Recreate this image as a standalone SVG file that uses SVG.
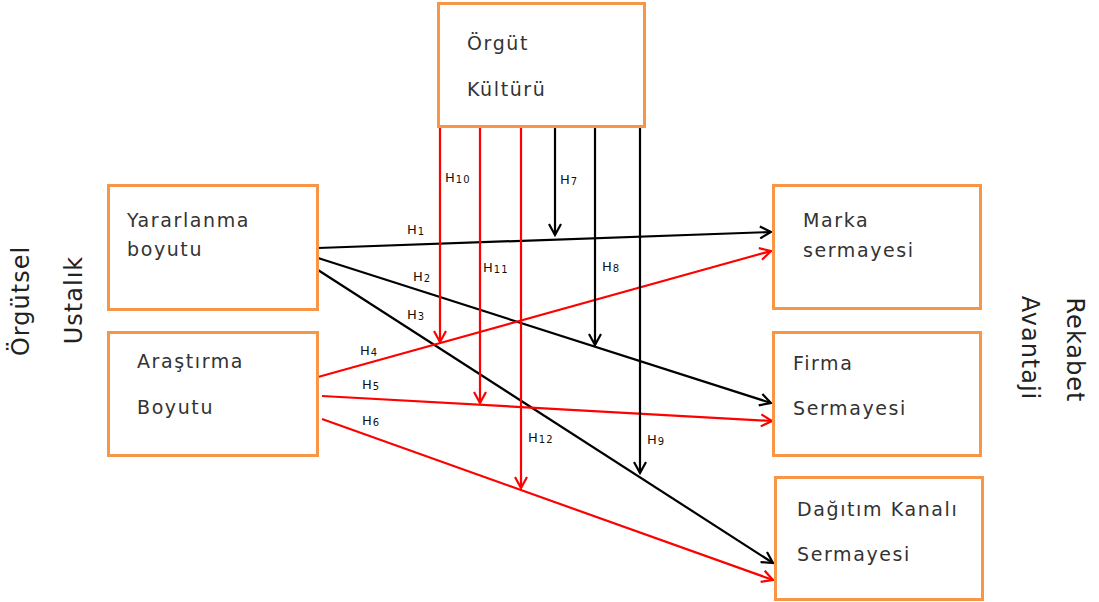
<svg xmlns="http://www.w3.org/2000/svg" width="1099" height="602" viewBox="0 0 1099 602">
<style>
.box{fill:#fff;stroke:#F79646;stroke-width:3}
.t{font-family:"DejaVu Sans",Verdana,sans-serif;font-size:19px;letter-spacing:1.6px;fill:#333}
.big{font-family:"DejaVu Sans",Verdana,sans-serif;font-size:24px;letter-spacing:1px;fill:#222;text-anchor:middle}
.h{font-family:"DejaVu Sans",Verdana,sans-serif;font-size:13px;letter-spacing:1px;fill:#111}
.h tspan{font-size:10px}
.k{stroke:#000;stroke-width:2.2;fill:none}
.r{stroke:#FF0000;stroke-width:2.2;fill:none}
</style>
<defs>
<marker id="ak" markerUnits="userSpaceOnUse" markerWidth="14" markerHeight="14" refX="12" refY="6.5" orient="auto" viewBox="0 0 14 13">
<path d="M1,0.5 L12,6.5 L1,12.5" fill="none" stroke="#000" stroke-width="2.2"/>
</marker>
<marker id="ar" markerUnits="userSpaceOnUse" markerWidth="14" markerHeight="14" refX="12" refY="6.5" orient="auto" viewBox="0 0 14 13">
<path d="M1,0.5 L12,6.5 L1,12.5" fill="none" stroke="#FF0000" stroke-width="2.2"/>
</marker>
</defs>
<g id="labels">
<text class="big" transform="translate(29,301) rotate(-90)">Örgütsel</text>
<text class="big" transform="translate(82,300) rotate(-90)">Ustalık</text>
<text class="big" transform="translate(1067,350) rotate(90)">Rekabet</text>
<text class="big" transform="translate(1022,348) rotate(90)">Avantaji</text>
</g>
<g id="connectors">
<line class="k" x1="318" y1="248" x2="771" y2="232" marker-end="url(#ak)"/>
<line class="k" x1="318" y1="258" x2="771" y2="403" marker-end="url(#ak)"/>
<line class="k" x1="318" y1="270" x2="773" y2="563" marker-end="url(#ak)"/>
<line class="r" x1="318" y1="377" x2="771" y2="251" marker-end="url(#ar)"/>
<line class="r" x1="322" y1="396" x2="772" y2="421" marker-end="url(#ar)"/>
<line class="r" x1="322" y1="419" x2="773" y2="580" marker-end="url(#ar)"/>
<line class="r" x1="440" y1="127" x2="440" y2="342" marker-end="url(#ar)"/>
<line class="r" x1="480" y1="127" x2="480" y2="403" marker-end="url(#ar)"/>
<line class="r" x1="521" y1="127" x2="521" y2="488" marker-end="url(#ar)"/>
<line class="k" x1="555" y1="127" x2="555" y2="235" marker-end="url(#ak)"/>
<line class="k" x1="595" y1="127" x2="595" y2="345" marker-end="url(#ak)"/>
<line class="k" x1="640" y1="127" x2="640" y2="473" marker-end="url(#ak)"/>
<text class="h" x="407" y="234">H<tspan dy="1">1</tspan></text>
<text class="h" x="413" y="281">H<tspan dy="1">2</tspan></text>
<text class="h" x="407" y="319">H<tspan dy="1">3</tspan></text>
<text class="h" x="360" y="355">H<tspan dy="1">4</tspan></text>
<text class="h" x="362" y="389">H<tspan dy="1">5</tspan></text>
<text class="h" x="362" y="425">H<tspan dy="1">6</tspan></text>
<text class="h" x="560" y="184">H<tspan dy="1">7</tspan></text>
<text class="h" x="602" y="271">H<tspan dy="1">8</tspan></text>
<text class="h" x="647" y="444">H<tspan dy="1">9</tspan></text>
<text class="h" x="445" y="182">H<tspan dy="1">10</tspan></text>
<text class="h" x="483" y="272">H<tspan dy="1">11</tspan></text>
<text class="h" x="528" y="442">H<tspan dy="1">12</tspan></text>
</g>
<g id="orgut-kulturu">
<rect class="box" x="438.5" y="3.5" width="206" height="123"/>
<text class="t" x="467" y="50">Örgüt</text>
<text class="t" x="467" y="96">Kültürü</text>
</g>
<g id="yararlanma">
<rect class="box" x="108.5" y="185.5" width="209" height="124"/>
<text class="t" x="127" y="227">Yararlanma</text>
<text class="t" x="127" y="256">boyutu</text>
</g>
<g id="arastirma">
<rect class="box" x="108.5" y="332.5" width="209" height="123"/>
<text class="t" x="137" y="368">Araştırma</text>
<text class="t" x="137" y="414">Boyutu</text>
</g>
<g id="marka">
<rect class="box" x="773.5" y="185.5" width="207" height="123"/>
<text class="t" x="803" y="227">Marka</text>
<text class="t" x="803" y="257">sermayesi</text>
</g>
<g id="firma">
<rect class="box" x="773.5" y="332.5" width="207" height="123"/>
<text class="t" x="793" y="370">Firma</text>
<text class="t" x="793" y="415">Sermayesi</text>
</g>
<g id="dagitim">
<rect class="box" x="775.5" y="477.5" width="207" height="122"/>
<text class="t" x="797" y="516">Dağıtım Kanalı</text>
<text class="t" x="797" y="561">Sermayesi</text>
</g>
</svg>
